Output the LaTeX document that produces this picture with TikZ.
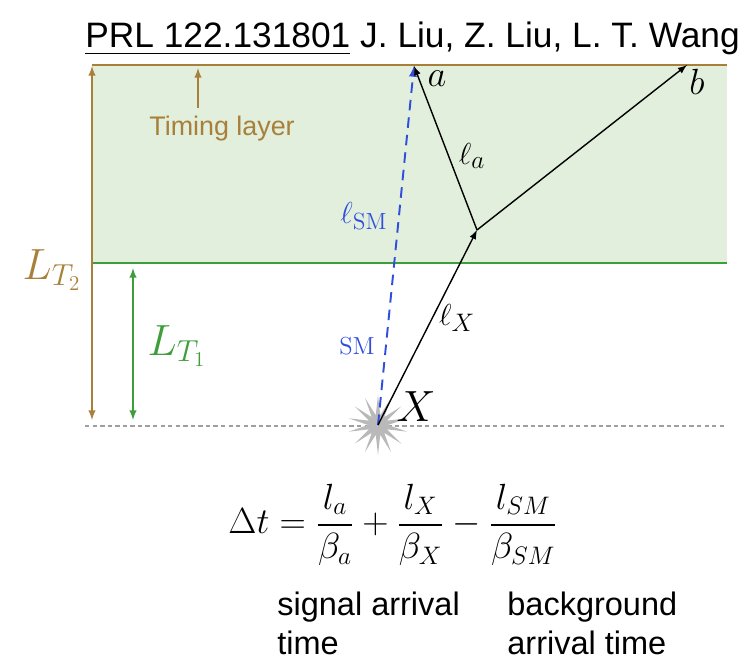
\documentclass[tikz,border=0pt]{standalone}
\usepackage{fontspec}
\newfontfamily\helv{Liberation Sans}
\usepackage{amsmath}
\usetikzlibrary{shapes.geometric, arrows, positioning}
\definecolor{layer-brown}{RGB}{168,128,58}
\definecolor{layer-green}{RGB}{62,158,58}
\definecolor{band-green}{RGB}{226,239,220}
\definecolor{sm-blue}{RGB}{48,78,220}

\begin{document}
\begin{tikzpicture}[x=0.02cm, y=-0.02cm, >=latex,
    lbl/.style={font=\fontsize{19}{22}\selectfont},
    helvtxt/.style={font=\helv\fontsize{15.3}{21}\selectfont}]
    \useasboundingbox (0,0) rectangle (744,661);

    % Titulo
    \node[anchor=base west, inner sep=0pt, font=\helv\fontsize{20.1}{23}\selectfont] (title) at (85,48)
        {\underline{PRL 122.131801} J. Liu, Z. Liu, L. T. Wang};

    % Camada de timing
    \fill[band-green] (92,65) rectangle (727,263);
    \draw[layer-brown, line width=1.3pt] (92,65) -- (727,65);
    \draw[layer-green, line width=1pt] (92,263) -- (727,263);
    \draw[gray!75, line width=0.9pt, dash pattern=on 2.5pt off 1.8pt] (85,426) -- (727,426);

    % Cotas
    \coordinate (t2top) at (92,66);
    \coordinate (t2bot) at (92,420);
    \coordinate (t1top) at (133,268);
    \coordinate (t1bot) at (133,420);
    \draw[<->, layer-brown, line width=0.9pt] (t2top) -- (t2bot);
    \draw[<->, layer-green, line width=0.9pt] (t1top) -- (t1bot);
    \node[layer-brown, font=\fontsize{24}{28}\selectfont] (lt2) at (52,270) {$L_{T_2}$};
    \node[layer-green, font=\fontsize{25}{29}\selectfont] (lt1) at (177,346) {$L_{T_1}$};

    % Timing layer
    \node[helvtxt, layer-brown, anchor=base west, inner sep=0pt] (timing) at (149,136) {Timing layer};
    \coordinate (timingtip) at (198,68);
    \draw[->, layer-brown, line width=0.9pt] (timing.north -| timingtip) ++(0,-8) -- (timingtip);

    % Decaimento
    \node[star, star points=14, star point ratio=3, fill=gray!55, minimum size=1.2cm, inner sep=0pt] (burst) at (378,425) {};
    \coordinate (vtx) at (477,230);
    \coordinate (hita) at (414,66);
    \coordinate (hitb) at (687,65);

    \draw[sm-blue, line width=1.1pt, dash pattern=on 6pt off 4pt, ->] (burst.center) -- (hita);
    \draw[->, line width=0.8pt] (burst.center) -- (vtx);
    \draw[->, line width=0.8pt] (vtx) -- (hita);
    \draw[->, line width=0.8pt] (vtx) -- (hitb);

    % Labels
    \node[font=\fontsize{22}{24}\selectfont] (la) at (437,79) {$a$};
    \node[font=\fontsize{22}{24}\selectfont] (lb) at (697,82) {$b$};
    \node[font=\fontsize{24}{26}\selectfont] (lx) at (416,407) {$X$};
    \node[lbl] (ella) at (472,156) {$\ell_a$};
    \node[lbl] (ellx) at (457,318) {$\ell_X$};
    \node[lbl, sm-blue] (ellsm) at (364,216) {$\ell_{\mathrm{SM}}$};
    \node[sm-blue, font=\fontsize{14}{17}\selectfont] (sm) at (357,346) {$\mathrm{SM}$};

    % Equacao
    \node[font=\fontsize{21.7}{26}\selectfont] (eq) at (393,525)
        {$\displaystyle \Delta t = \frac{l_a}{\beta_a} + \frac{l_X}{\beta_X} - \frac{l_{SM}}{\beta_{SM}}$};
    \node[helvtxt, font=\helv\fontsize{18.5}{22}\selectfont, align=left, anchor=north west, inner sep=0pt] (sig) at (277,592)
        {signal arrival\\time};
    \node[helvtxt, font=\helv\fontsize{18.5}{22}\selectfont, align=left, anchor=north west, inner sep=0pt] (bkg) at (507,592)
        {background\\arrival time};
\end{tikzpicture}
\end{document}
